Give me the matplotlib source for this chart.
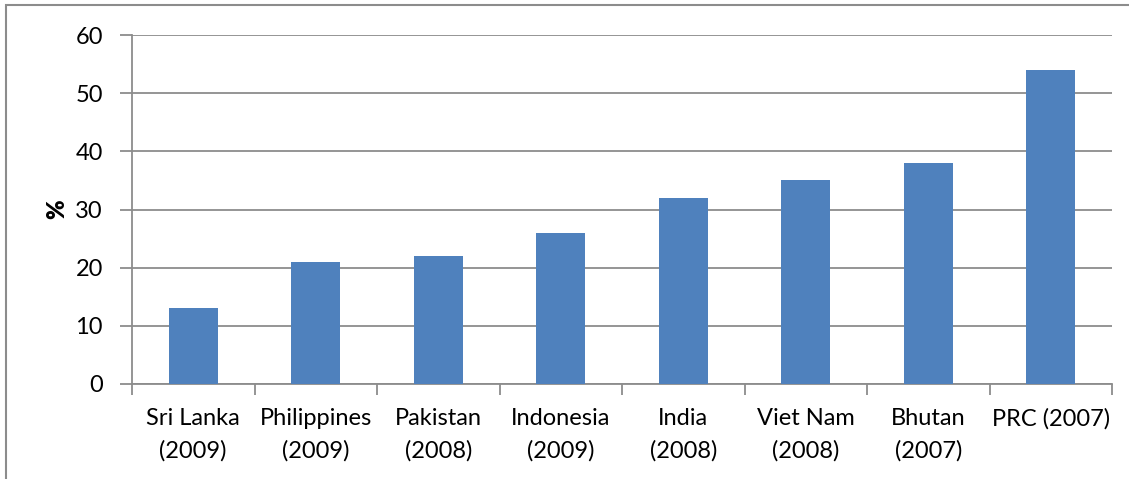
import numpy as np
import matplotlib.pyplot as plt
from matplotlib.patches import Rectangle

# Datos
categories = ['Sri Lanka\n(2009)', 'Philippines\n(2009)', 'Pakistan\n(2008)', 'Indonesia\n(2009)',
              'India\n(2008)', 'Viet Nam\n(2008)', 'Bhutan\n(2007)', 'PRC (2007)']
values = [13, 21, 22, 26, 32, 35, 38, 54]
y_ticks = [0, 10, 20, 30, 40, 50, 60]

plt.rcParams['font.family'] = ['Lato', 'DejaVu Sans']

fig = plt.figure(figsize=(11.29, 4.79), dpi=100)
ax = fig.add_axes([132 / 1129, 1 - 384 / 479, (1112 - 132) / 1129, (384 - 35) / 479])

grid_c = '#8c8c8c'
x = np.arange(len(categories))
ax.bar(x, values, width=0.4, color='#4F81BD', zorder=3)

ax.set_xlim(-0.5, len(categories) - 0.5)
ax.set_ylim(0, 60)
ax.set_yticks(y_ticks)
ax.set_yticklabels([str(t) for t in y_ticks], fontsize=17)
ax.yaxis.grid(True, color=grid_c, linewidth=1.3, zorder=0)

# ticks del eje x entre categorias
ax.set_xticks(np.arange(-0.5, len(categories), 1.0))
ax.set_xticklabels([])
ax.set_xticks(x, minor=True)
ax.set_xticklabels(categories, minor=True, fontsize=17, linespacing=1.65)
ax.tick_params(axis='x', which='minor', length=0, pad=17)
ax.tick_params(axis='x', which='major', length=8, width=1.3, color=grid_c)
ax.tick_params(axis='y', length=9, width=1.3, color=grid_c, pad=12)

for side in ['top', 'right']:
    ax.spines[side].set_visible(False)
for side in ['left', 'bottom']:
    ax.spines[side].set_color(grid_c)
    ax.spines[side].set_linewidth(1.3)

ax.set_ylabel('%', fontsize=17, fontweight='heavy', labelpad=5)

# borde exterior del grafico
fig.patches.append(Rectangle((6 / 1129, -0.1), 1.2, 1 - 5 / 479 + 0.1, transform=fig.transFigure,
                             fill=False, edgecolor='#8c8c8c', linewidth=1.5))

fig.savefig('out.png', dpi=100)
